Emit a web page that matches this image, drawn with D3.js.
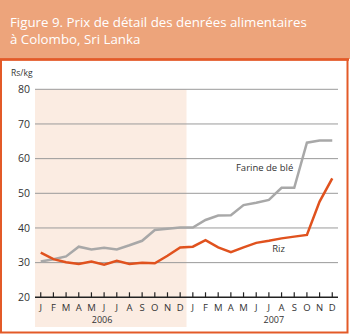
<!DOCTYPE html>
<head>
<meta charset="utf-8">
<style>
body { margin: 0; background: #fff; }
text { font-family: "Open Sans", "Noto Sans", sans-serif; }
</style>
</head>
<body>
<script src="https://d3js.org/d3.v7.min.js"></script>
<script>

// Data
var titleLines = ["Figure 9. Prix de détail des denrées alimentaires", "à Colombo, Sri Lanka"];
var monthKeys = ["2006-01","2006-02","2006-03","2006-04","2006-05","2006-06","2006-07","2006-08","2006-09","2006-10","2006-11","2006-12",
                 "2007-01","2007-02","2007-03","2007-04","2007-05","2007-06","2007-07","2007-08","2007-09","2007-10","2007-11","2007-12"];
var monthLabels = ["J","F","M","A","M","J","J","A","S","O","N","D"];
var years = ["2006", "2007"];
var wheat = [30.3, 31.0, 31.8, 34.6, 33.8, 34.3, 33.8, 35.0, 36.3, 39.4, 39.8, 40.1,
             40.1, 42.3, 43.6, 43.7, 46.6, 47.3, 48.1, 51.6, 51.6, 64.6, 65.2, 65.2];
var rice  = [32.9, 31.0, 30.1, 29.6, 30.3, 29.4, 30.5, 29.6, 30.0, 29.8, 32.0, 34.4,
             34.6, 36.5, 34.4, 33.0, 34.4, 35.7, 36.3, 37.0, 37.5, 38.0, 47.6, 54.3];
var yTicks = [20, 30, 40, 50, 60, 70, 80];

var W = 350, H = 335;
var svg = d3.select("body").append("svg")
    .attr("width", W)
    .attr("height", H);

// header + frame
svg.append("rect").attr("x", 0).attr("y", 0).attr("width", W).attr("height", 59)
    .attr("fill", "#eda47b");
svg.append("rect").attr("x", 1).attr("y", 59.5).attr("width", 346.5).attr("height", 273)
    .attr("fill", "none").attr("stroke", "#e35a28").attr("stroke-width", 2);
svg.append("line").attr("x1", 0).attr("x2", 349).attr("y1", 59.5).attr("y2", 59.5)
    .attr("stroke", "#e35a28").attr("stroke-width", 2.5);

svg.selectAll(".title")
    .data(titleLines)
  .enter().append("text")
    .attr("x", 10)
    .attr("y", function(d, i) { return 27 + i * 17; })
    .attr("fill", "#fff")
    .style("font-size", "13.3px")
    .text(function(d) { return d; });

// scales
var x = d3.scalePoint()
    .domain(monthKeys)
    .range([34.4, 338.6])
    .padding(0.5);
var y = d3.scaleLinear()
    .domain([20, 80])
    .range([297.3, 89.3]);

var left = 35, right = 338;
var step = x.step();

// shaded 2006 band
svg.append("rect")
    .attr("x", left)
    .attr("y", y(80))
    .attr("width", x(monthKeys[11]) + step / 2 - left)
    .attr("height", 327 - y(80))
    .attr("fill", "#fbece2");

// grid lines
svg.selectAll(".grid")
    .data(yTicks.slice(1))
  .enter().append("line")
    .attr("x1", left).attr("x2", right)
    .attr("y1", function(d) { return y(d); })
    .attr("y2", function(d) { return y(d); })
    .attr("stroke", "#9a9a9a")
    .attr("stroke-width", 1);

// y labels
svg.selectAll(".ylab")
    .data(yTicks)
  .enter().append("text")
    .attr("x", 30)
    .attr("y", function(d) { return y(d) + 3.8; })
    .attr("text-anchor", "end")
    .attr("fill", "#333")
    .style("font-size", "10.5px")
    .text(function(d) { return d; });

svg.append("text")
    .attr("x", 11).attr("y", 76)
    .attr("fill", "#333")
    .style("font-size", "8.5px")
    .text("Rs/kg");

// x axis
svg.append("line")
    .attr("x1", left).attr("x2", right)
    .attr("y1", y(20)).attr("y2", y(20))
    .attr("stroke", "#222").attr("stroke-width", 1.5);
svg.selectAll(".tick")
    .data(monthKeys)
  .enter().append("line")
    .attr("x1", function(d) { return x(d); })
    .attr("x2", function(d) { return x(d); })
    .attr("y1", y(20) - 5).attr("y2", y(20))
    .attr("stroke", "#222").attr("stroke-width", 1.2);
svg.selectAll(".mlab")
    .data(monthKeys)
  .enter().append("text")
    .attr("x", function(d) { return x(d); })
    .attr("y", 310.5)
    .attr("text-anchor", "middle")
    .attr("fill", "#333")
    .style("font-size", "9.5px")
    .text(function(d, i) { return monthLabels[i % 12]; });
svg.selectAll(".year")
    .data(years)
  .enter().append("text")
    .attr("x", function(d, i) { return i === 0 ? x(monthKeys[5]) - 2 : x(monthKeys[18]) + 5; })
    .attr("y", 323)
    .attr("text-anchor", "middle")
    .attr("fill", "#333")
    .style("font-size", "9px")
    .text(function(d) { return d; });

// lines
var line = d3.line()
    .x(function(d, i) { return x(monthKeys[i]); })
    .y(function(d) { return y(d); });

svg.append("path")
    .datum(wheat)
    .attr("d", line)
    .attr("fill", "none")
    .attr("stroke", "#a8a8a8")
    .attr("stroke-width", 2.5);
svg.append("path")
    .datum(rice)
    .attr("d", line)
    .attr("fill", "none")
    .attr("stroke", "#e0521e")
    .attr("stroke-width", 2.5);

// series labels
svg.append("text")
    .attr("x", x(monthKeys[20]) - 1).attr("y", y(56.4))
    .attr("text-anchor", "end")
    .attr("fill", "#333")
    .style("font-size", "9.5px")
    .text("Farine de blé");
svg.append("text")
    .attr("x", x(monthKeys[19]) - 3).attr("y", y(33.2))
    .attr("text-anchor", "middle")
    .attr("fill", "#333")
    .style("font-size", "9.5px")
    .text("Riz");

</script>
</body>
</html>
